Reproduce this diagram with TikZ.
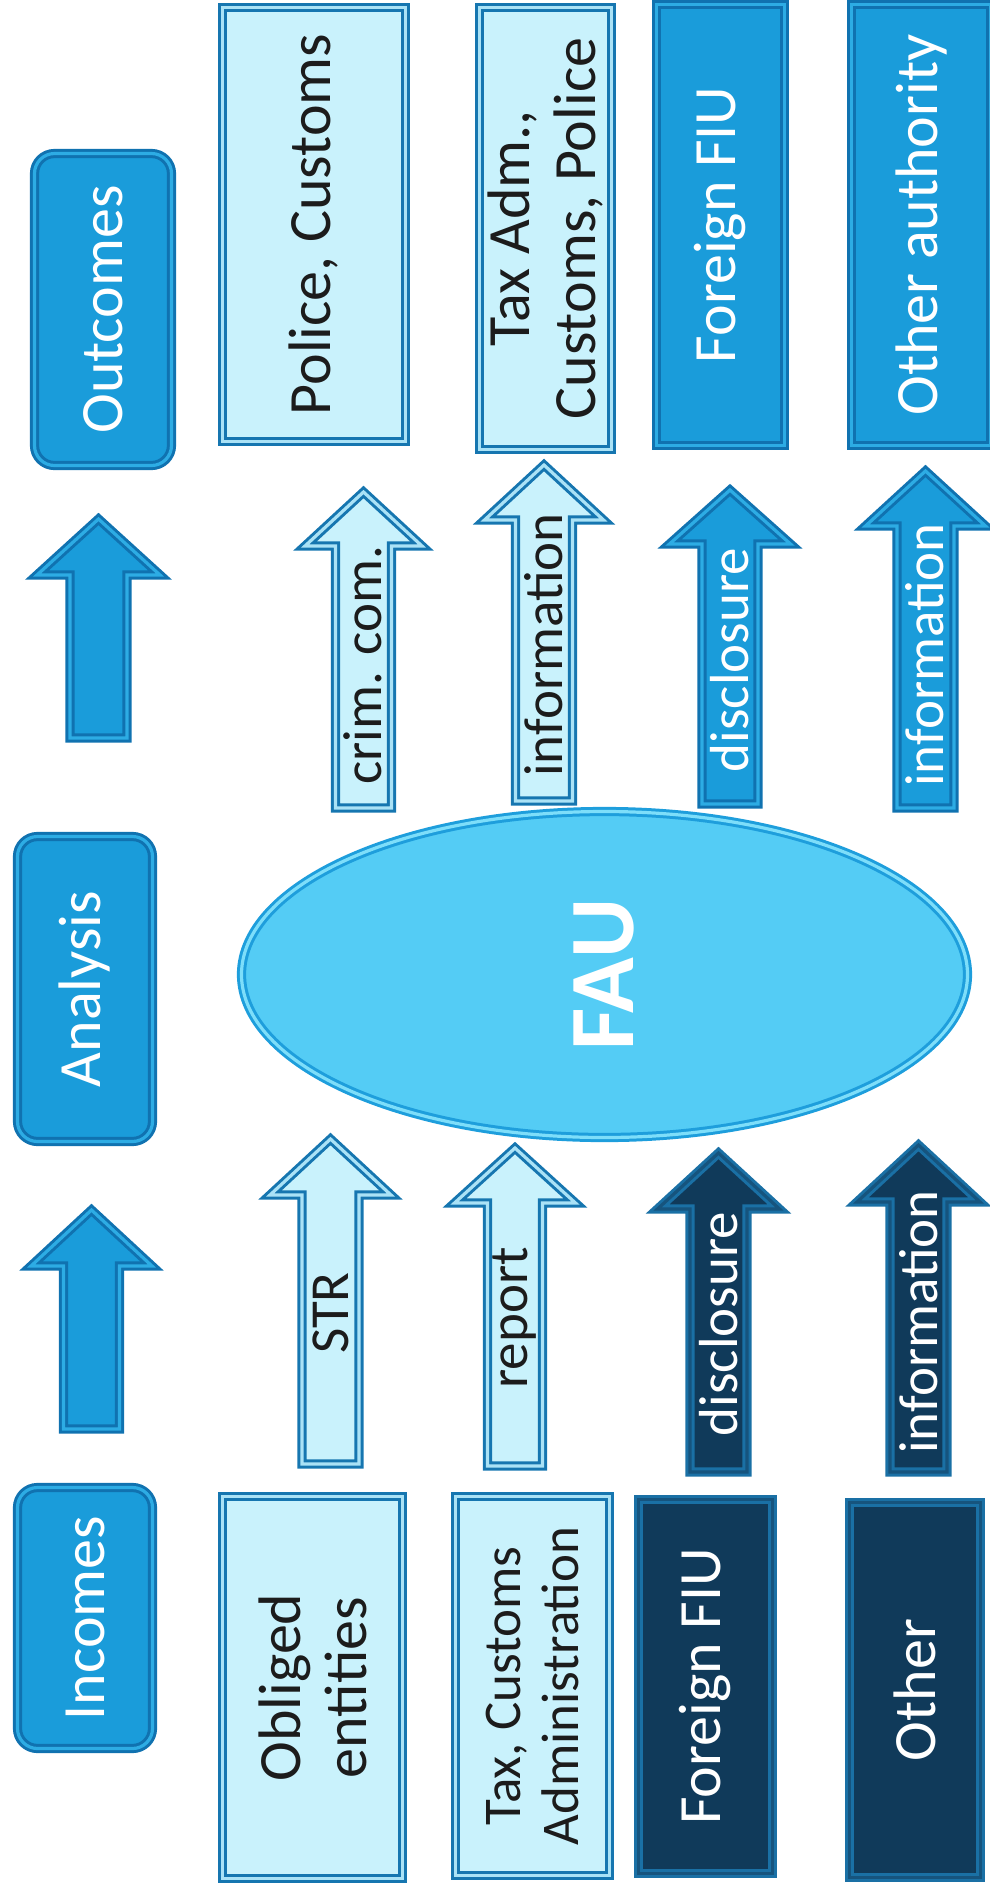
\documentclass[tikz,border=0pt]{standalone}
\usepackage{fontspec}
\setmainfont{Carlito}
\usetikzlibrary{shapes.geometric}

% palette
\definecolor{lfill}{RGB}{201,242,252}
\definecolor{lborder}{RGB}{22,118,176}
\definecolor{lgap}{RGB}{170,226,246}
\definecolor{mfill}{RGB}{26,156,218}
\definecolor{mborder}{RGB}{16,114,176}
\definecolor{mgap}{RGB}{45,172,228}
\definecolor{dfill}{RGB}{16,58,90}
\definecolor{dborder}{RGB}{26,112,165}
\definecolor{dgap}{RGB}{22,84,126}
\definecolor{efill}{RGB}{84,204,245}
\definecolor{eborder}{RGB}{30,158,220}
\definecolor{egap}{RGB}{125,222,250}
\definecolor{ink}{RGB}{28,28,28}

% block arrow pointing up: style, centre x, shaft half width, head half width,
% tip y, head base y, tail y (outer extents; the outline is inset)
\newcommand{\blockarrow}[7]{%
  \draw[#1] (#2-#3+4,#7-4) -- (#2-#3+4,#6-4) -- (#2-#4+5,#6-4) -- (#2,#5+6)
    -- (#2+#4-5,#6-4) -- (#2+#3-4,#6-4) -- (#2+#3-4,#7-4) -- cycle;}

\begin{document}
\begin{tikzpicture}[x=0.5pt,y=-0.5pt,
  dbl/.style={line width=1.5pt,double distance=1.6pt},
  boxtext/.style={font=\fontsize{30}{33}\selectfont},
  lbltext/.style={font=\fontsize{27.5}{29}\selectfont},
  basebox/.style={rectangle,rotate=90,align=center,inner sep=0pt,dbl,boxtext},
  lightbox/.style={basebox,draw=lborder,double=lgap,fill=lfill,text=ink},
  midbox/.style={basebox,draw=mborder,double=mgap,fill=mfill,text=white},
  darkbox/.style={basebox,draw=dborder,double=dgap,fill=dfill,text=white},
  header/.style={midbox,rounded corners=10pt},
  lightarrow/.style={draw=lborder,double=lgap,fill=lfill,dbl},
  midarrow/.style={draw=mborder,double=mgap,fill=mfill,dbl},
  darkarrow/.style={draw=dborder,double=dgap,fill=dfill,dbl},
  lbl/.style={rotate=90,inner sep=0pt,lbltext},
  darklbl/.style={lbl,text=ink},
  whitelbl/.style={lbl,text=white}]

\useasboundingbox (0,0) rectangle (990,1892);

% column headers and the arrows between them
\node[header,minimum width=156pt,minimum height=68.5pt] (outcomes) at (103,309.5) {Outcomes};
\node[header,minimum width=152.5pt,minimum height=67.5pt] (analysis) at (85,989) {Analysis};
\node[header,minimum width=130.5pt,minimum height=67.5pt] (incomes) at (85,1618) {Incomes};
\blockarrow{midarrow}{98.5}{32.5}{66.5}{513}{579}{742}
\blockarrow{midarrow}{91.5}{32}{65.5}{1204}{1270}{1433}

% recipients of the outcomes
\node[lightbox,minimum width=217pt,minimum height=91.5pt] (police) at (314,224.5) {Police, Customs};
\node[lightbox,minimum width=221pt,minimum height=66pt] (taxadm) at (545.5,228.5) {Tax Adm.,\\Customs, Police};
\node[midbox,minimum width=220.5pt,minimum height=64pt] (fiuout) at (720.5,225) {Foreign FIU};
\node[midbox,minimum width=220.5pt,minimum height=69.5pt] (otherout) at (921,225) {Other authority};

% sources of the incomes
\node[lightbox,minimum width=191pt,minimum height=90pt] (obliged) at (312.5,1687.5) {Obliged\\entities};
\node[lightbox,minimum width=189.5pt,minimum height=77pt,font=\fontsize{26.5}{29}\selectfont] (taxcust) at (532.5,1686) {Tax, Customs\\Administration};
\node[darkbox,minimum width=187pt,minimum height=67pt] (fiuin) at (705.5,1686.5) {Foreign FIU};
\node[darkbox,minimum width=187.5pt,minimum height=65.5pt] (otherin) at (915,1690) {Other};

% outgoing arrows
\blockarrow{lightarrow}{363.5}{32}{63.5}{486}{550}{812}
\blockarrow{lightarrow}{544}{32.5}{64.5}{459}{524}{805}
\blockarrow{midarrow}{730}{32}{65.5}{484}{548}{808}
\blockarrow{midarrow}{925.5}{32.5}{65}{465}{530}{812}

% incoming arrows
\blockarrow{lightarrow}{330.5}{32.5}{65.5}{1133}{1199}{1468}
\blockarrow{lightarrow}{515}{31.5}{65.5}{1142}{1207}{1470}
\blockarrow{darkarrow}{718.5}{32.5}{66}{1147}{1213}{1476}
\blockarrow{darkarrow}{918.5}{32.5}{66.5}{1139}{1206}{1476}

% arrow labels
\node[darklbl] (lcrim) at (363,665) {crim. com.};
\node[darklbl] (linfo2) at (544,645) {information};
\node[whitelbl] (ldisc3) at (730,660) {disclosure};
\node[whitelbl] (linfo4) at (925,655) {information};
\node[darklbl] (lstr) at (330.5,1313) {STR};
\node[darklbl] (lreport) at (515,1318) {report};
\node[whitelbl] (ldisc7) at (718.5,1324) {disclosure};
\node[whitelbl] (linfo8) at (918.5,1322) {information};

% the analysis unit
\node[ellipse,rotate=90,inner sep=0pt,draw=eborder,double=egap,dbl,fill=efill,
      minimum width=163pt,minimum height=363pt,text=white,
      font=\bfseries\fontsize{46}{46}\selectfont] (fau) at (604.5,974.5) {FAU};

\end{tikzpicture}
\end{document}
